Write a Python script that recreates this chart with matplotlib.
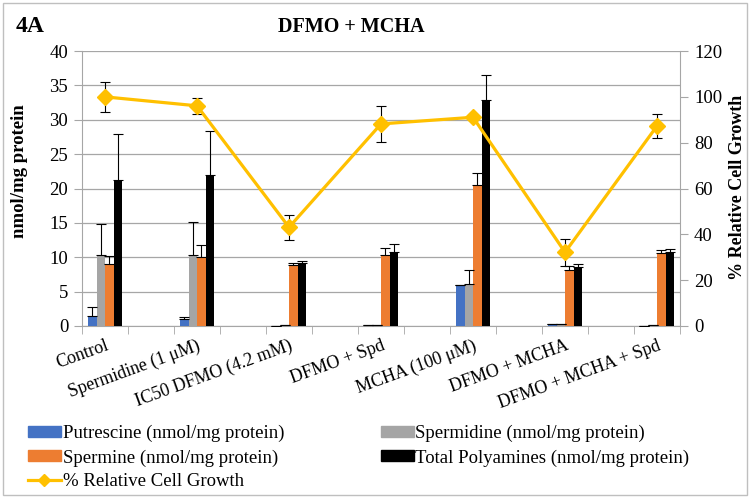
import matplotlib
matplotlib.use("Agg")
import matplotlib.pyplot as plt
from matplotlib.lines import Line2D
from matplotlib.patches import Patch, Rectangle
import numpy as np

categories = ["Control", "Spermidine (1 \u03bcM)", "IC50 DFMO (4.2 mM)", "DFMO + Spd",
              "MCHA (100 \u03bcM)", "DFMO + MCHA", "DFMO + MCHA + Spd"]
putrescine = [1.45, 1.07, 0.05, 0.1, 5.97, 0.3, 0.03]
putrescine_err = [1.25, 0.23, 0.0, 0.0, 0.0, 0.0, 0.0]
spermidine = [10.4, 10.4, 0.1, 0.15, 6.17, 0.3, 0.15]
spermidine_err = [4.5, 4.7, 0.0, 0.0, 2.0, 0.0, 0.0]
spermine = [9.07, 10.1, 8.83, 10.4, 20.5, 8.15, 10.6]
spermine_err = [1.13, 1.7, 0.34, 1.0, 1.7, 0.55, 0.4]
total = [21.25, 21.9, 9.17, 10.8, 32.85, 8.6, 10.8]
total_err = [6.75, 6.5, 0.23, 1.1, 3.65, 0.47, 0.45]
growth = [100, 96.1, 43.1, 88.2, 91.1, 32.2, 87.3]
growth_err = [6.5, 3.4, 5.5, 7.7, 1.0, 5.8, 5.2]

labels = ["Putrescine (nmol/mg protein)", "Spermidine (nmol/mg protein)",
          "Spermine (nmol/mg protein)", "Total Polyamines (nmol/mg protein)",
          "% Relative Cell Growth"]
colors = ["#4472C4", "#A5A5A5", "#ED7D31", "#000000"]
line_color = "#FFC000"
serif = ["Liberation Serif", "DejaVu Serif"]
plt.rcParams['font.family'] = serif

fig = plt.figure(figsize=(7.56, 4.99), dpi=100)
fig.patches.append(Rectangle((0.004, 0.008), 0.984, 0.986, transform=fig.transFigure,
                             fill=False, edgecolor="#BFBFBF", linewidth=1.0))
ax = fig.add_axes([0.1085, 0.3467, 0.791, 0.551])
x = np.arange(len(categories)) * 2.0
bw = 0.185
series = [(putrescine, putrescine_err), (spermidine, spermidine_err),
          (spermine, spermine_err), (total, total_err)]
for i, (vals, errs) in enumerate(series):
    xs = x + (i - 1.5) * bw
    ax.bar(xs, vals, width=bw, color=colors[i], edgecolor="none", zorder=3)
    ax.errorbar(xs, vals, yerr=[np.zeros(len(vals)), errs], fmt="none",
                ecolor="black", elinewidth=0.8, capsize=3.5, capthick=0.8, zorder=4)

ax.set_xlim(-0.5, 12.5)
ax.set_ylim(0, 40)
ax.set_yticks(np.arange(0, 41, 5))
ax.yaxis.grid(True, color="#A6A6A6", linewidth=0.9, zorder=0)
ax.set_axisbelow(True)
ax.set_xticks(x)
ax.set_xticklabels(categories, rotation=20, ha="right", rotation_mode="anchor", fontsize=13)
ax.tick_params(axis="x", length=0, pad=8)
ax.set_xticks(np.arange(-0.5, 13.0, 1.0), minor=True)
ax.tick_params(axis="x", which="minor", length=6, color="#A6A6A6")
ax.tick_params(axis="y", length=6, color="#A6A6A6", labelsize=13.5, pad=4)
for s in ["top", "right"]:
    ax.spines[s].set_visible(False)
for s in ["left", "bottom"]:
    ax.spines[s].set_color("#A6A6A6")

ax2 = ax.twinx()
ax2.set_ylim(0, 120)
ax2.set_yticks(np.arange(0, 121, 20))
ax2.errorbar(x, growth, yerr=growth_err, fmt="none", ecolor="black",
             elinewidth=0.8, capsize=3.5, capthick=0.8, zorder=5)
ax2.plot(x, growth, color=line_color, linewidth=2.3, marker="D", markersize=8,
         markerfacecolor=line_color, markeredgecolor=line_color, zorder=6)
ax2.tick_params(axis="y", length=6, color="#A6A6A6", labelsize=13.5, pad=4)
for s in ["top", "left"]:
    ax2.spines[s].set_visible(False)
ax2.spines["right"].set_color("#A6A6A6")
ax2.spines["bottom"].set_visible(False)

fig.text(0.021, 0.946, "4A", fontsize=17, fontweight="bold", va="center", ha="left")
fig.text(0.465, 0.946, "DFMO + MCHA", fontsize=14.5, fontweight="bold", va="center", ha="center")
fig.text(0.026, 0.657, "nmol/mg protein", fontsize=13.5, fontweight="bold", rotation=90,
         va="center", ha="center")
fig.text(0.976, 0.625, "% Relative Cell Growth", fontsize=13, fontweight="bold", rotation=90,
         va="center", ha="center")

handles = [Patch(color=colors[0]), Patch(color=colors[2]),
           Line2D([], [], color=line_color, linewidth=2.3, marker="D", markersize=6),
           Patch(color=colors[1]), Patch(color=colors[3])]
hl = [labels[0], labels[2], labels[4], labels[1], labels[3]]
fig.legend(handles, hl, ncol=2, loc="upper left", bbox_to_anchor=(0.037, 0.148),
           frameon=False, fontsize=13.5, handlelength=1.75, handleheight=0.55,
           handletextpad=0.1, columnspacing=5.15, labelspacing=0.36, borderpad=0.0,
           borderaxespad=0.0)

fig.savefig("out.png", dpi=100)
